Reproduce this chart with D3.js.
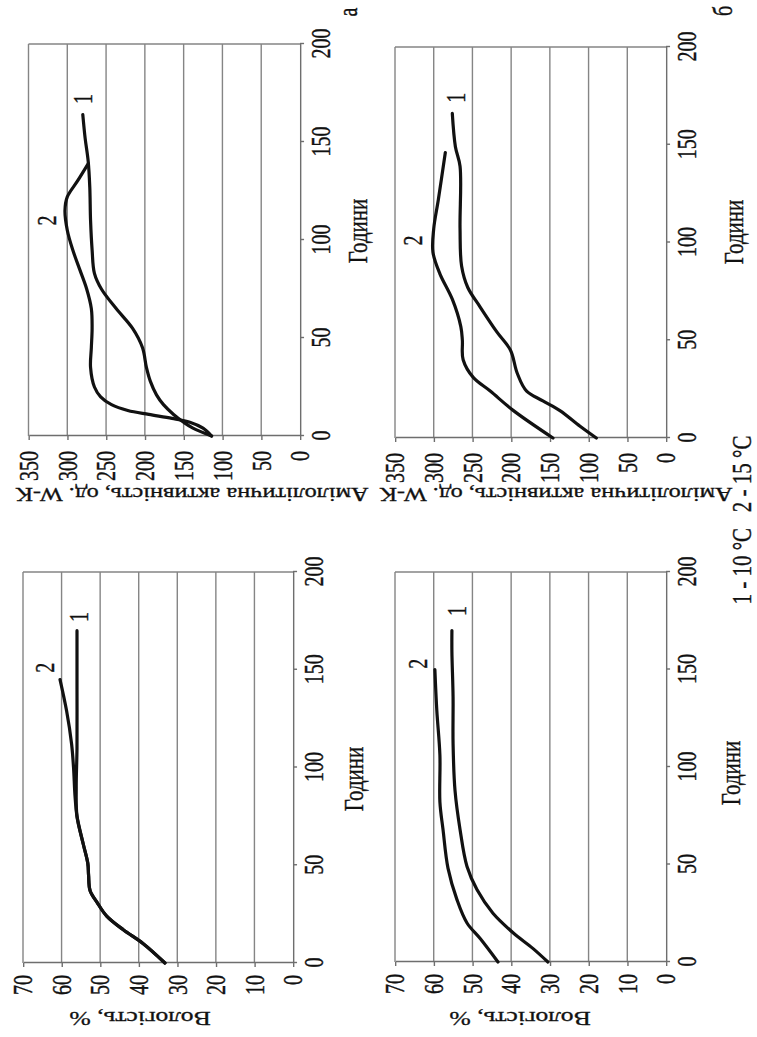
<!DOCTYPE html>
<html>
<head>
<meta charset="utf-8">
<script src="https://cdn.jsdelivr.net/npm/d3@7"></script>
<style>
  html, body { margin: 0; padding: 0; background: #fff; }
  svg { display: block; }
  text { font-family: "Liberation Serif", "Times New Roman", serif; fill: #111; stroke: #111; stroke-width: 0.3px; }
</style>
</head>
<body>
<svg id="fig" width="757" height="1037"></svg>
<script>
// ---- axis ticks ----
const hourTicks = [0, 50, 100, 150, 200];
const moistureTicks = [0, 10, 20, 30, 40, 50, 60, 70];
const activityTicks = [0, 50, 100, 150, 200, 250, 300, 350];

// ---- series (а): moisture, % ----
const moistA10Hours  = [0, 10, 17, 24, 31, 37, 45, 51, 61, 75, 90, 110, 140, 170];
const moistA10Values = [33.2, 38.9, 44, 48.3, 50.8, 52.6, 53, 53.2, 54.4, 56, 56.2, 56, 56, 56];
const moistA15Hours  = [0, 10, 17, 24, 31, 37, 45, 51, 61, 75, 85, 100, 112, 129, 145];
const moistA15Values = [33.2, 38.9, 44, 48.3, 50.8, 52.6, 53, 53.2, 54.4, 56, 56.5, 56.9, 57.4, 58.7, 60.4];

// ---- series (а): amylolytic activity, W-K units ----
const actA10Hours  = [0, 4, 7, 11, 16, 21, 28, 35, 45, 55, 65, 75, 83, 95, 110, 127, 140, 152, 164];
const actA10Values = [114, 138, 150, 163, 176, 185, 193, 198, 203, 216, 237, 256, 265, 268, 270, 271, 273, 277, 280];
const actA15Hours  = [0, 4, 7, 9, 11, 13, 16, 20, 25, 35, 45, 55, 65, 75, 85, 95, 105, 115, 122, 130, 139];
const actA15Values = [114, 125, 142, 165, 195, 222, 243, 257, 265, 270, 269, 268, 269, 275, 284, 293, 300, 303, 300, 287, 273];

// ---- series (б): moisture, % ----
const moistB10Hours  = [0, 7, 15, 25, 37, 49, 68, 88, 112, 136, 159, 170];
const moistB10Values = [30.5, 34.4, 39.5, 44.7, 48.8, 51.4, 53.2, 54.5, 55, 55, 55.3, 55.3];
const moistB15Hours  = [0, 12, 20, 32, 48, 68, 82, 106, 129, 150];
const moistB15Values = [43.4, 48, 51.4, 54, 56.3, 57.6, 58.4, 58.4, 59.2, 59.7];

// ---- series (б): amylolytic activity, W-K units ----
const actB10Hours  = [0, 6, 14, 19, 24, 33, 45, 54, 67, 77, 88, 107, 139, 149, 166];
const actB10Values = [90, 111, 137, 159, 180, 192, 201, 218, 240, 256, 264, 266, 266, 272, 276];
const actB15Hours  = [0, 14, 24, 31, 40, 50, 57, 71, 84, 95, 107, 122, 146];
const actB15Values = [146, 197, 227, 249, 262, 263, 265, 276, 292, 301, 300, 294, 285];

// ---- text ----
const hoursTitle = "Години";
const moistureTitle = "Вологість, %";
const activityTitle = "Амілолітична активність, од. W-K";
const legendText = "1 - 10 °C   2 - 15 °C";

const zip = (h, v) => h.map((d, i) => [d, v[i]]);

// The figure is laid out landscape (W x H) and turned a quarter turn
// counter-clockwise onto the portrait page; S is the vertical stretch.
const W = 1037, H = 757, S = 1.35;
const FS = 20;

const svg = d3.select("#fig");
svg.append("rect").attr("width", 757).attr("height", 1037).attr("fill", "#fff");
const g = svg.append("g")
  .attr("transform", `translate(0,${W}) rotate(-90) scale(1,${S})`);

const gridColor = "#858585";

function panel(cfg) {
  const x = d3.scaleLinear().domain([0, 200]).range([cfg.u0, cfg.u1]);
  const y = d3.scaleLinear().domain([0, cfg.max]).range([cfg.vBot / S, cfg.vTop / S]);
  const p = g.append("g");

  // horizontal gridlines
  p.selectAll("line.grid")
    .data(cfg.ticks.filter(t => t > 0))
    .join("line")
    .attr("x1", x(0)).attr("x2", x(200))
    .attr("y1", d => y(d)).attr("y2", d => y(d))
    .attr("stroke", gridColor).attr("stroke-width", 1.4)
    .attr("vector-effect", "non-scaling-stroke");

  // right border of the plot area
  p.append("line")
    .attr("x1", x(200)).attr("x2", x(200))
    .attr("y1", y(0)).attr("y2", y(cfg.max))
    .attr("stroke", gridColor).attr("stroke-width", 1.4)
    .attr("vector-effect", "non-scaling-stroke");

  // axes
  const xa = p.append("g")
    .attr("transform", `translate(0,${y(0)})`)
    .call(d3.axisBottom(x).tickValues(hourTicks).tickSize(3).tickSizeOuter(0).tickPadding(5));
  const ya = p.append("g")
    .attr("transform", `translate(${x(0)},0)`)
    .call(d3.axisLeft(y).tickValues(cfg.ticks).tickSize(4).tickSizeOuter(0).tickPadding(cfg.yPad));

  [xa, ya].forEach(a => {
    a.attr("font-size", FS).attr("font-family", null);
    a.selectAll("path, line")
      .attr("stroke", "#6e6e6e").attr("stroke-width", 1.4)
      .attr("vector-effect", "non-scaling-stroke");
    a.selectAll("text").attr("fill", "#111");
  });

  // curves
  const line = d3.line()
    .x(d => x(d[0])).y(d => y(d[1]))
    .curve(d3.curveCatmullRom.alpha(0.5));
  p.selectAll("path.series")
    .data(cfg.series)
    .join("path")
    .attr("d", d => line(d))
    .attr("fill", "none")
    .attr("stroke", "#111")
    .attr("stroke-width", 3.2)
    .attr("stroke-linejoin", "round")
    .attr("stroke-linecap", "round")
    .attr("vector-effect", "non-scaling-stroke");

  // curve numbers
  p.selectAll("text.num")
    .data(cfg.labels)
    .join("text")
    .attr("x", d => x(d.hour))
    .attr("y", d => y(d.value))
    .attr("dy", "0.35em")
    .attr("text-anchor", "middle")
    .attr("font-size", FS)
    .text(d => d.text);

  // x-axis title
  p.append("text")
    .attr("x", cfg.xTitleU)
    .attr("y", cfg.xTitleV / S)
    .attr("text-anchor", "middle")
    .attr("font-size", FS + 1)
    .text(hoursTitle);

  // y-axis title
  p.append("text")
    .attr("transform", `translate(${cfg.yTitleU},${cfg.yTitleV / S}) rotate(-90)`)
    .attr("text-anchor", "middle")
    .attr("font-size", cfg.yTitleSize)
    .text(cfg.yTitle);
}

// (а) moisture
panel({
  u0: 74, u1: 465, vTop: 23, vBot: 293, max: 70, ticks: moistureTicks, yPad: 8,
  series: [zip(moistA10Hours, moistA10Values), zip(moistA15Hours, moistA15Values)],
  labels: [{ text: "2", hour: 151, value: 64.3 }, { text: "1", hour: 177, value: 55.7 }],
  xTitleU: 258, xTitleV: 363,
  yTitle: moistureTitle, yTitleU: 25, yTitleV: 140, yTitleSize: 19
});
// (а) activity
panel({
  u0: 601, u1: 993, vTop: 28.5, vBot: 300, max: 350, ticks: activityTicks, yPad: 11,
  series: [zip(actA10Hours, actA10Values), zip(actA15Hours, actA15Values)],
  labels: [{ text: "2", hour: 110, value: 327 }, { text: "1", hour: 172, value: 280 }],
  xTitleU: 806, xTitleV: 367,
  yTitle: activityTitle, yTitleU: 549, yTitleV: 192, yTitleSize: 18
});
// (б) moisture
panel({
  u0: 75, u1: 465, vTop: 395, vBot: 666, max: 70, ticks: moistureTicks, yPad: 8,
  series: [zip(moistB10Hours, moistB10Values), zip(moistB15Hours, moistB15Values)],
  labels: [{ text: "2", hour: 153, value: 64.3 }, { text: "1", hour: 180, value: 54 }],
  xTitleU: 264, xTitleV: 740,
  yTitle: moistureTitle, yTitleU: 25, yTitleV: 520, yTitleSize: 19
});
// (б) activity
panel({
  u0: 599, u1: 990, vTop: 395, vBot: 666, max: 350, ticks: activityTicks, yPad: 11,
  series: [zip(actB10Hours, actB10Values), zip(actB15Hours, actB15Values)],
  labels: [{ text: "2", hour: 101, value: 327 }, { text: "1", hour: 174, value: 272 }],
  xTitleU: 805, xTitleV: 743,
  yTitle: activityTitle, yTitleU: 549, yTitleV: 556, yTitleSize: 18
});

// sub-figure letters
g.append("text").attr("x", 1025).attr("y", 357 / S)
  .attr("text-anchor", "middle").attr("font-size", FS).text("а");
g.append("text").attr("x", 1026).attr("y", 732 / S)
  .attr("text-anchor", "middle").attr("font-size", FS).text("б");

// temperature legend
g.append("text").attr("x", 517).attr("y", 751 / S)
  .attr("text-anchor", "middle").attr("font-size", FS + 1)
  .attr("xml:space", "preserve").style("white-space", "pre")
  .text(legendText);
</script>
</body>
</html>
